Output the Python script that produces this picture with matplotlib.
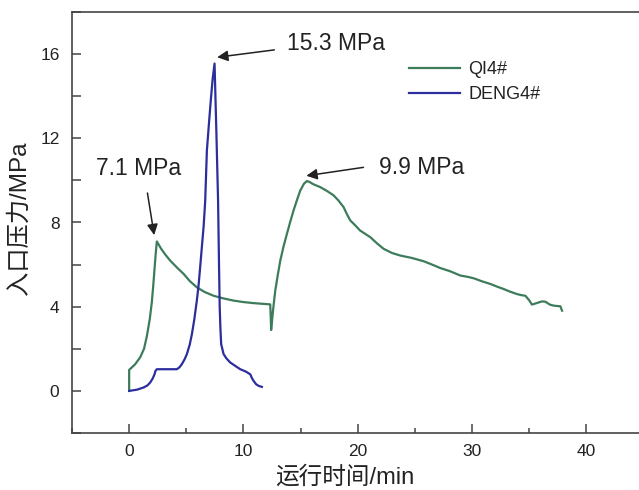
import numpy as np
import matplotlib
matplotlib.use('Agg')
import matplotlib.pyplot as plt
from matplotlib.ticker import MultipleLocator

# Style constants
GREEN = '#3d7c5b'
BLUE = '#2b2e9c'
AXIS_COLOR = '#444444'
TEXT_COLOR = '#222222'
LATIN = 'Liberation Sans'
CJK_FAMILY = ['Liberation Sans', 'Noto Sans CJK SC', 'DejaVu Sans']

plt.rcParams['font.family'] = CJK_FAMILY

# QI4# series (time in min, pressure in MPa)
qi4_t = [0, 0, 0.5, 0.96, 1.3, 1.55, 1.8, 1.98, 2.1, 2.22, 2.32, 2.42,
         2.8, 3.2, 3.59, 4.2, 4.76, 5.3, 5.92, 6.6, 7.38, 8.2, 9.13, 10.0,
         10.88, 11.6, 12.34, 12.38, 12.42, 12.6, 12.78, 13.0, 13.22, 13.5,
         13.8, 14.1, 14.38, 14.7, 14.97, 15.3, 15.55, 15.8, 16.1, 16.72,
         17.3, 17.88, 18.3, 18.76, 19.0, 19.34, 19.8, 20.2, 21.1, 21.7,
         22.26, 23.0, 23.72, 24.7, 25.76, 26.5, 27.2, 28.1, 28.97, 29.6,
         30.14, 30.9, 31.6, 32.2, 32.76, 33.3, 33.93, 34.3, 34.66, 35.0,
         35.24, 35.7, 36.1, 36.4, 36.8, 37.14, 37.5, 37.72, 37.87]
qi4_p = [0.0, 1.0, 1.25, 1.59, 2.0, 2.6, 3.4, 4.2, 4.95, 5.8, 6.5, 7.1,
         6.75, 6.45, 6.19, 5.85, 5.56, 5.22, 4.92, 4.7, 4.52, 4.4, 4.29, 4.22,
         4.17, 4.14, 4.11, 3.6, 2.89, 3.9, 4.76, 5.5, 6.19, 6.85,
         7.46, 8.05, 8.57, 9.1, 9.52, 9.85, 9.97, 9.92, 9.82, 9.68,
         9.5, 9.29, 9.05, 8.73, 8.45, 8.1, 7.85, 7.62, 7.3, 7.0,
         6.75, 6.55, 6.43, 6.32, 6.16, 6.0, 5.84, 5.68, 5.48, 5.42,
         5.35, 5.2, 5.08, 4.95, 4.84, 4.72, 4.6, 4.55, 4.52, 4.3,
         4.1, 4.18, 4.25, 4.24, 4.1, 4.05, 4.03, 4.02, 3.81]

# DENG4# series
deng4_t = [0.0, 0.7, 1.25, 1.6, 1.84, 2.05, 2.22, 2.3, 2.42, 3.3, 4.17,
           4.4, 4.61, 4.85, 5.05, 5.3, 5.49, 5.7, 5.92, 6.07, 6.21, 6.37,
           6.51, 6.65, 6.8, 6.98, 7.14, 7.3, 7.47, 7.62, 7.78, 7.86, 7.92,
           7.98, 8.05, 8.26, 8.5, 8.84, 9.3, 9.72, 10.2, 10.59, 10.75,
           10.88, 11.1, 11.32, 11.61]
deng4_p = [0.0, 0.06, 0.16, 0.26, 0.4, 0.58, 0.79, 0.95, 1.03, 1.03, 1.03,
           1.12, 1.27, 1.5, 1.75, 2.2, 2.7, 3.4, 4.29, 5.0, 5.87, 6.9,
           7.78, 9.0, 11.43, 12.7, 13.8, 14.8, 15.55, 12.5, 9.0, 6.0, 4.0,
           3.0, 2.22, 1.75, 1.55, 1.35, 1.18, 1.03, 0.92, 0.79, 0.6,
           0.48, 0.32, 0.24, 0.19]

# Peak annotations: label, text position, arrow tail, arrow head
peak_labels = ['15.3 MPa', '7.1 MPa', '9.9 MPa']
label_xy = [(18.1, 16.5), (0.83, 10.55), (25.6, 10.6)]
arrow_tail = [(12.7, 16.2), (1.6, 9.4), (20.5, 10.62)]
arrow_head = [(7.7, 15.85), (2.19, 7.4), (15.5, 10.22)]

fig = plt.figure(figsize=(6.39, 4.90), dpi=100)
ax = fig.add_axes([72 / 639, 57 / 490, 567 / 639, 421 / 490])

ax.plot(qi4_t, qi4_p, color=GREEN, lw=1.6, label='QI4#', zorder=3)
ax.plot(deng4_t, deng4_p, color=BLUE, lw=1.6, label='DENG4#', zorder=4)

for lab, txy, tail, head in zip(peak_labels, label_xy, arrow_tail, arrow_head):
    ax.text(txy[0], txy[1], lab, fontsize=16.5, family=LATIN, color=TEXT_COLOR,
            ha='center', va='center')
    ax.annotate('', xy=head, xytext=tail,
                arrowprops=dict(arrowstyle='-|>', color=TEXT_COLOR, lw=1.1,
                                mutation_scale=16, shrinkA=0, shrinkB=0))

ax.set_xlim(-5, 44.6)
ax.set_ylim(-2, 18)
ax.xaxis.set_major_locator(MultipleLocator(10))
ax.xaxis.set_minor_locator(MultipleLocator(5))
ax.yaxis.set_major_locator(MultipleLocator(4))
ax.yaxis.set_minor_locator(MultipleLocator(2))

ax.tick_params(axis='both', which='both', direction='in', color=AXIS_COLOR,
               width=1.1, labelsize=12.5, labelcolor=TEXT_COLOR)
ax.tick_params(axis='x', which='major', length=6.5, pad=8)
ax.tick_params(axis='x', which='minor', length=3.3)
ax.tick_params(axis='y', which='both', length=6.5, pad=9)
ax.tick_params(top=False, right=False, which='both')
for lbl in ax.get_xticklabels() + ax.get_yticklabels():
    lbl.set_family(LATIN)

for side in ['left', 'bottom', 'top']:
    ax.spines[side].set_color(AXIS_COLOR)
    ax.spines[side].set_linewidth(1.2)
ax.spines['right'].set_visible(False)

ax.set_xlabel('运行时间/min', fontsize=17, color=TEXT_COLOR)
ax.set_ylabel('入口压力/MPa', fontsize=17.5, color=TEXT_COLOR)
ax.xaxis.set_label_coords((345 - 72) / 567, -0.078)
ax.yaxis.set_label_coords((31 - 72) / 567, (433 - 218) / 421)

leg = ax.legend(loc='upper left', bbox_to_anchor=((409 - 72) / 567, (433 - 61) / 421),
                frameon=False, handlelength=2.8, handletextpad=0.5,
                borderpad=0, borderaxespad=0, labelspacing=0.45,
                prop={'family': LATIN, 'size': 13})
for text in leg.get_texts():
    text.set_color(TEXT_COLOR)

fig.savefig('out.png', dpi=100, facecolor='white')
